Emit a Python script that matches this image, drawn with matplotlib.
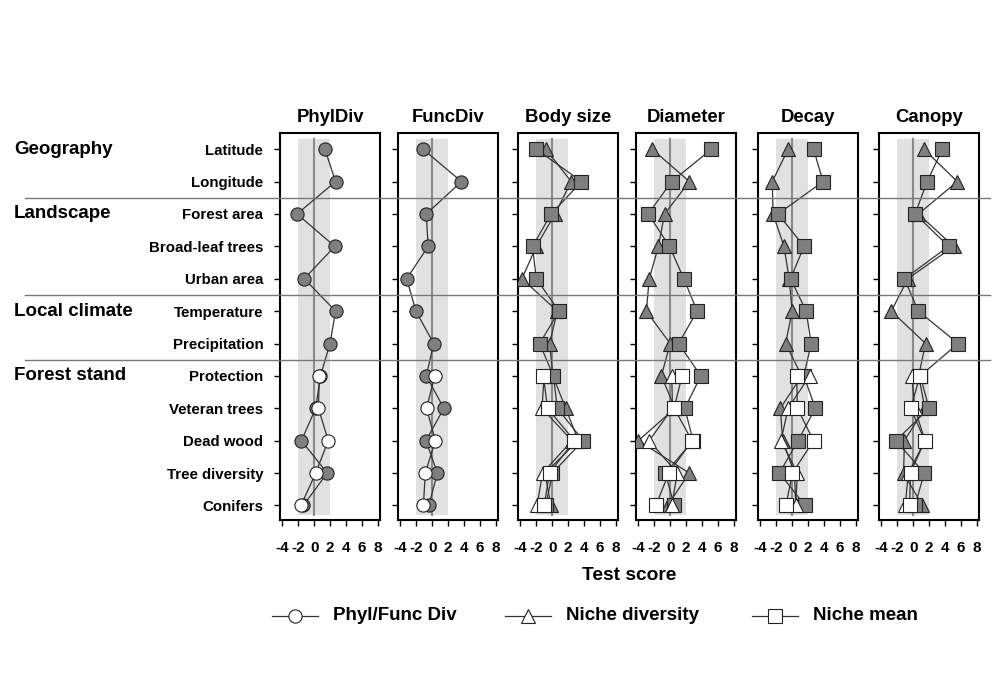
import numpy as np
import matplotlib
matplotlib.use('Agg')
import matplotlib.pyplot as plt
from matplotlib.lines import Line2D
from matplotlib.transforms import blended_transform_factory

plt.rcParams['font.family'] = ['Liberation Sans', 'DejaVu Sans']
plt.rcParams['font.weight'] = 'bold'

rows = ['Latitude', 'Longitude', 'Forest area', 'Broad-leaf trees', 'Urban area',
        'Temperature', 'Precipitation', 'Protection', 'Veteran trees', 'Dead wood',
        'Tree diversity', 'Conifers']
group_names = ['Geography', 'Landscape', 'Local climate', 'Forest stand']
group_start = [0, 2, 5, 7]
panel_titles = ['PhylDiv', 'FuncDiv', 'Body size', 'Diameter', 'Decay', 'Canopy']

# grey = all predictors, white = forest stand predictors only (rows 7-11)
phyl_circ_grey = [1.36, 2.7, -2.15, 2.6, -1.24, 2.7, 2.0, 0.8, 0.2, -1.6, 1.65, -1.36]
phyl_circ_white = [0.66, 0.54, 1.78, 0.2, -1.65]
func_circ_grey = [-1.15, 3.7, -0.74, -0.5, -3.2, -2.05, 0.2, -0.74, 1.48, -0.78, 0.66, -0.41]
func_circ_white = [0.33, -0.7, 0.41, -0.86, -1.1]

body_sq_grey = [-2.0, 3.7, -0.12, -2.47, -2.0, 0.87, -1.57, 0.16, 0.66, 3.9, 0.04, -0.8]
body_tri_grey = [-0.78, 2.4, 0.37, -2.0, -3.8, 0.66, -0.33, 0.1, 1.7, 3.3, -0.9, -0.16]
body_sq_white = [-1.1, -0.58, 2.8, -0.33, -1.0]
body_tri_white = [-1.0, -1.28, 2.5, -1.2, -1.9]

diam_sq_grey = [5.2, 0.2, -2.76, -0.08, 1.73, 3.4, 1.07, 3.87, 1.85, 2.9, -0.6, 0.5]
diam_tri_grey = [-2.26, 2.43, -0.7, -1.48, -2.63, -3.0, 0.0, -1.1, 0.6, -4.0, 2.4, -0.3]
diam_sq_white = [1.5, 0.5, 2.76, -0.16, -1.8]
diam_tri_white = [0.2, 0.3, -2.63, 0.9, 0.2]

decay_sq_grey = [2.7, 3.9, -1.77, 1.5, -0.2, 1.77, 2.4, 1.48, 2.93, 0.74, -1.6, 1.6]
decay_tri_grey = [-0.5, -2.5, -2.4, -1.03, -0.37, 0.0, -0.82, 1.2, -1.48, -1.2, 0.3, 0.45]
decay_sq_white = [0.58, 0.66, 2.7, 0.04, -0.78]
decay_tri_white = [2.2, -0.5, -1.4, 0.66, 0.45]

canopy_sq_grey = [3.7, 1.76, 0.25, 4.47, -1.1, 0.66, 5.66, 0.9, 2.0, -2.17, 1.4, 0.25]
canopy_tri_grey = [1.35, 5.57, 0.66, 5.1, -0.66, -2.75, 1.56, 0.7, 1.48, -1.1, -1.2, 1.15]
canopy_sq_white = [0.86, -0.3, 1.48, -0.33, -0.45]
canopy_tri_white = [-0.16, 0.2, 1.5, -0.6, -1.0]

panels = [
    [('o', phyl_circ_grey, phyl_circ_white)],
    [('o', func_circ_grey, func_circ_white)],
    [('^', body_tri_grey, body_tri_white), ('s', body_sq_grey, body_sq_white)],
    [('^', diam_tri_grey, diam_tri_white), ('s', diam_sq_grey, diam_sq_white)],
    [('^', decay_tri_grey, decay_tri_white), ('s', decay_sq_grey, decay_sq_white)],
    [('^', canopy_tri_grey, canopy_tri_white), ('s', canopy_sq_grey, canopy_sq_white)],
]

fig = plt.figure(figsize=(9.97, 6.98), dpi=100)
W, H = 997, 698
top_px, bot_px = 133, 520
lefts = [280, 398, 518, 636, 758, 879]
width_px = 100

yrow = np.arange(len(rows))
ystand = yrow[7:]
ms = 9.5
axes = []
for i, left in enumerate(lefts):
    ax = fig.add_axes([left / W, 1 - bot_px / H, width_px / W, (bot_px - top_px) / H])
    axes.append(ax)
    ax.fill_betweenx([-0.3, 11.3], -2, 2, color='#e1e1e1', lw=0, zorder=0)
    ax.plot([0, 0], [-0.3, 11.3], color='#8a8a8a', lw=1.5, zorder=1)
    for mk, grey, white in panels[i]:
        ax.plot(grey, yrow, color='#333333', lw=0.9, marker=mk, ms=ms,
                mfc='#7f7f7f', mec='#222222', mew=0.8, zorder=3)
        ax.plot(white, ystand, color='#333333', lw=0.9, marker=mk, ms=ms,
                mfc='white', mec='#222222', mew=0.8, zorder=4)
    ax.set_xlim(-4.3, 8.3)
    ax.set_ylim(11.45, -0.5)
    ax.set_xticks([-4, -2, 0, 2, 4, 6, 8])
    ax.set_xticklabels(['-4', '-2', '0', '2', '4', '6', '8'], fontsize=11, fontweight='bold')
    ax.tick_params(axis='x', direction='out', length=4, width=1, pad=11)
    ax.set_yticks(yrow)
    ax.tick_params(axis='y', direction='out', length=4, width=1)
    if i == 0:
        ax.set_yticklabels(rows, fontsize=10.8, fontweight='bold')
        ax.tick_params(axis='y', pad=8)
    else:
        ax.set_yticklabels([])
    for sp in ax.spines.values():
        sp.set_linewidth(1.5)
    ax.set_title(panel_titles[i], fontsize=13.3, fontweight='bold', pad=8)

# separator lines between groups
tr = blended_transform_factory(fig.transFigure, axes[0].transData)
for g in group_start[1:]:
    fig.add_artist(Line2D([25 / W, 990 / W], [g - 0.5, g - 0.5], transform=tr,
                          color='#777777', lw=1.0))
for name, g in zip(group_names, group_start):
    fig.text(14 / W, g, name, transform=tr, fontsize=13.5, fontweight='bold',
             va='center', ha='left')

fig.text(629 / W, 1 - 576 / H, 'Test score', fontsize=13.8, fontweight='bold',
         ha='center', va='center')

# legend
legend_items = [('o', 'Phyl/Func Div', 272), ('^', 'Niche diversity', 505), ('s', 'Niche mean', 752)]
ly = 1 - 616 / H
for mk, lab, x0 in legend_items:
    fig.add_artist(Line2D([x0 / W, (x0 + 46) / W], [ly, ly], transform=fig.transFigure,
                          color='#333333', lw=0.9))
    fig.add_artist(Line2D([(x0 + 23) / W], [ly], transform=fig.transFigure, marker=mk,
                          ms=ms, mfc='white', mec='#222222', mew=0.8, lw=0))
    fig.text((x0 + 61) / W, ly, lab, fontsize=13.5, fontweight='bold', va='center', ha='left')

fig.savefig('out.png', dpi=100)
